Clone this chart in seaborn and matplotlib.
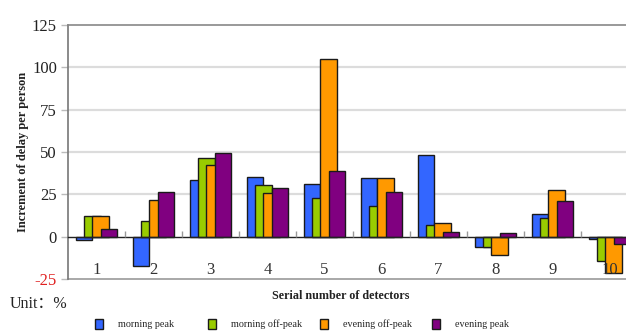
import numpy as np
import pandas as pd
import seaborn as sns
import matplotlib
matplotlib.use("Agg")
import matplotlib.pyplot as plt
from matplotlib.ticker import FixedLocator

detectors = ['1', '2', '3', '4', '5', '6', '7', '8', '9', '10']
periods = ['morning peak', 'morning off-peak', 'evening off-peak', 'evening peak']
morning_peak = [-2, -17.5, 33.5, 35, 31, 34.5, 48.5, -6, 13.5, -1.5]
morning_offpeak = [12.5, 9.5, 46.5, 30.5, 23, 18, 7, -6, 11, -14.5]
evening_offpeak = [12.5, 21.5, 42.5, 26, 105, 34.5, 8, -11, 27.5, -21.5]
evening_peak = [4.5, 26.5, 49.5, 28.5, 39, 26.5, 2.5, 2, 21, -4.5]
colors = ['#3366FF', '#99CC00', '#FF9900', '#800080']
yticks = [-25, 0, 25, 50, 75, 100, 125]

rows = []
for p, vals in zip(periods, [morning_peak, morning_offpeak, evening_offpeak, evening_peak]):
    for d, v in zip(detectors, vals):
        rows.append({'detector': d, 'period': p, 'value': v})
df = pd.DataFrame(rows)

sns.set_theme(style='white')
plt.rcParams['font.family'] = ['Liberation Serif', 'Noto Sans CJK SC', 'DejaVu Sans']

fig = plt.figure(figsize=(6.26, 3.32), dpi=100)
ax = fig.add_axes([68/626, 1 - 279/332, 570/626, 254/332])

sns.barplot(data=df, x='detector', y='value', hue='period', order=detectors,
            hue_order=periods, palette=colors, saturation=1, width=0.576,
            edgecolor='#1a1a1a', linewidth=1, errorbar=None, ax=ax, legend=True)

# overlapping bars: widen each bar to twice its dodged width
for i, cont in enumerate(ax.containers):
    for bar in cont:
        w = bar.get_width()
        bar.set_x(bar.get_x() - w / 2)
        bar.set_width(2 * w)
        bar.set_zorder(3 + i)

handles, labels = ax.get_legend_handles_labels()
ax.get_legend().remove()

ax.set_xlim(-0.5, 9.5)
ax.set_ylim(-25, 125)
ax.set_yticks(yticks)
ax.set_yticklabels([str(t) for t in yticks])
for lbl, t in zip(ax.get_yticklabels(), yticks):
    lbl.set_color('#e02020' if t == -25 else '#222222')
ax.tick_params(axis='y', labelsize=12, length=5, color='#bbbbbb', width=1, pad=3, left=True)

for t in [25, 50, 75, 100]:
    ax.axhline(t, color='#dcdcdc', lw=1.6, zorder=1)
ax.axhline(-25, color='#999999', lw=1.2, zorder=1, clip_on=False)

ax.spines['bottom'].set_position(('data', 0))
ax.spines['bottom'].set_color('#222222')
ax.spines['bottom'].set_linewidth(1)
ax.spines['bottom'].set_zorder(10)
ax.spines['top'].set_color('#888888')
ax.spines['top'].set_linewidth(1.2)
ax.spines['left'].set_color('#777777')
ax.spines['left'].set_linewidth(1.2)
ax.spines['right'].set_visible(False)

ax.xaxis.set_minor_locator(FixedLocator(np.arange(0.5, 9.5, 1.0)))
ax.tick_params(axis='x', which='major', length=0, labelsize=12, pad=18, labelcolor='#333333')
ax.tick_params(axis='x', which='minor', direction='in', length=4, color='#999999', bottom=True)
ax.xaxis.set_zorder(20)

ax.set_xlabel('')
ax.set_ylabel('Increment of delay per person', fontsize=9, fontweight='bold', labelpad=2, color='#222222')

fig.text(341/626, 1 - 296/332, 'Serial number of detectors', fontsize=8.7, fontweight='bold',
         ha='center', va='center', color='#222222')
fig.text(10/626, 1 - 304/332, 'Unit：%', fontsize=11.5, ha='left', va='center', color='#222222')

marker_x = [95, 208, 320, 432]
for h, l, mx in zip(handles, labels, marker_x):
    fig.legend([h], [l], loc='center left', bbox_to_anchor=(mx/626, 1 - 324/332),
               frameon=False, fontsize=7.3, handlelength=0.75, handleheight=1.2,
               handletextpad=1.5, borderpad=0, borderaxespad=0)

fig.savefig('out.png', dpi=100)
